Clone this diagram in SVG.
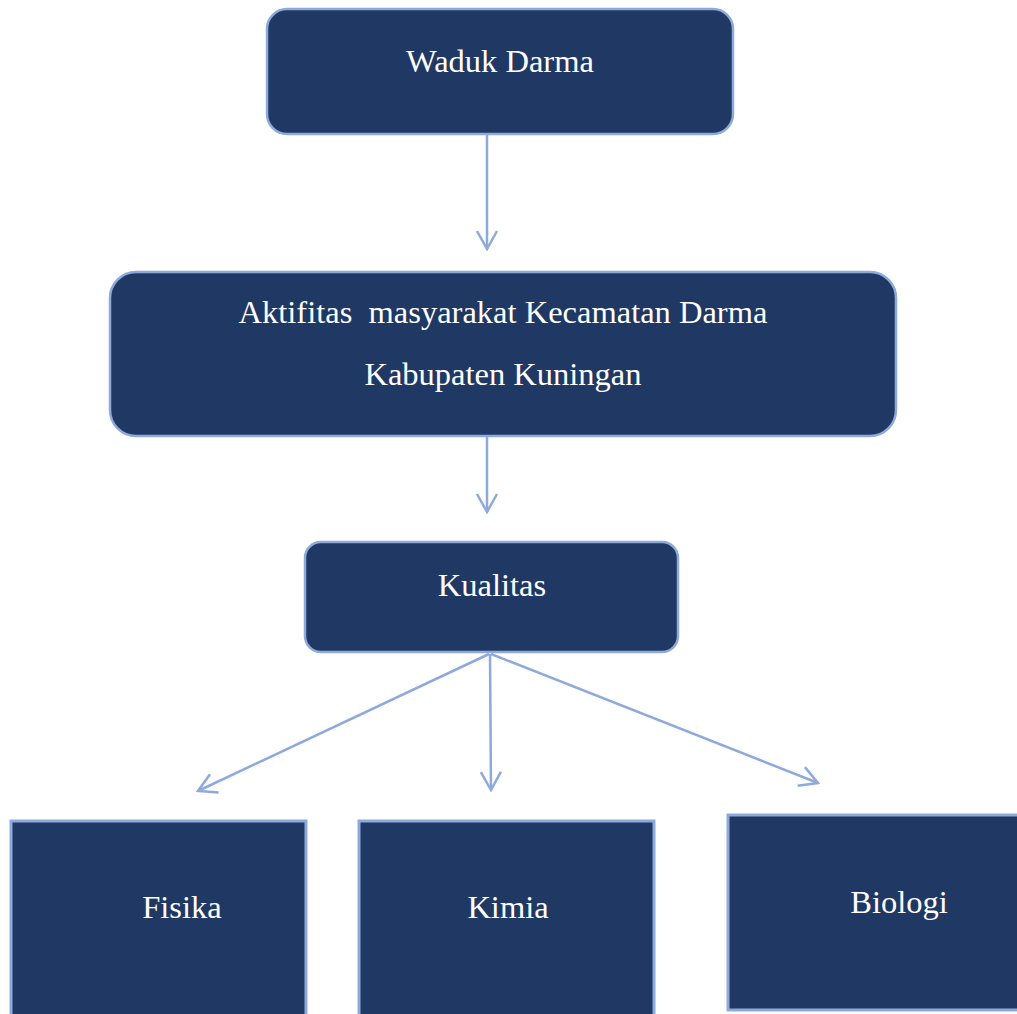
<svg xmlns="http://www.w3.org/2000/svg" width="1017" height="1014" viewBox="0 0 1017 1014">
<style>
.box{fill:#203864;stroke:#8eaadb;stroke-width:2.5}
.sq{fill:#203864;stroke:#8eaadb;stroke-width:3}
.t{font-family:"Liberation Serif","Times New Roman",serif;font-size:32.5px;fill:#ffffff;text-anchor:middle;white-space:pre}
.c{fill:none;stroke:#8eaadb;stroke-width:2.5}
</style>
<defs>
<marker id="ah" markerUnits="userSpaceOnUse" viewBox="-22 -12 24 24" markerWidth="24" markerHeight="24" refX="0" refY="0" orient="auto">
<path d="M-18,-10 L0,0 L-18,10" fill="none" stroke="#8eaadb" stroke-width="2.5"/>
</marker>
</defs>
<g id="connectors">
<line class="c" x1="487" y1="135" x2="487" y2="249" marker-end="url(#ah)"/>
<line class="c" x1="487" y1="430" x2="487" y2="512" marker-end="url(#ah)"/>
<line class="c" x1="489" y1="654" x2="198" y2="791" marker-end="url(#ah)"/>
<line class="c" x1="490" y1="654" x2="491" y2="790" marker-end="url(#ah)"/>
<line class="c" x1="491" y1="654" x2="818" y2="783" marker-end="url(#ah)"/>
</g>
<g id="waduk">
<rect class="box" x="267" y="9" width="466" height="125" rx="20"/>
<text class="t" x="500" y="72">Waduk Darma</text>
</g>
<g id="aktifitas">
<rect class="box" x="110" y="272" width="786" height="164" rx="26"/>
<text class="t" x="503" y="323" xml:space="preserve">Aktifitas  masyarakat Kecamatan Darma</text>
<text class="t" x="503" y="385">Kabupaten Kuningan</text>
</g>
<g id="kualitas">
<rect class="box" x="305" y="542" width="373" height="110" rx="16"/>
<text class="t" x="492" y="596">Kualitas</text>
</g>
<g id="fisika">
<rect class="sq" x="11" y="821" width="295" height="200"/>
<text class="t" x="182" y="918">Fisika</text>
</g>
<g id="kimia">
<rect class="sq" x="359" y="821" width="295" height="200"/>
<text class="t" x="508" y="918">Kimia</text>
</g>
<g id="biologi">
<rect class="sq" x="728" y="815" width="300" height="195"/>
<text class="t" x="899" y="913">Biologi</text>
</g>
</svg>
